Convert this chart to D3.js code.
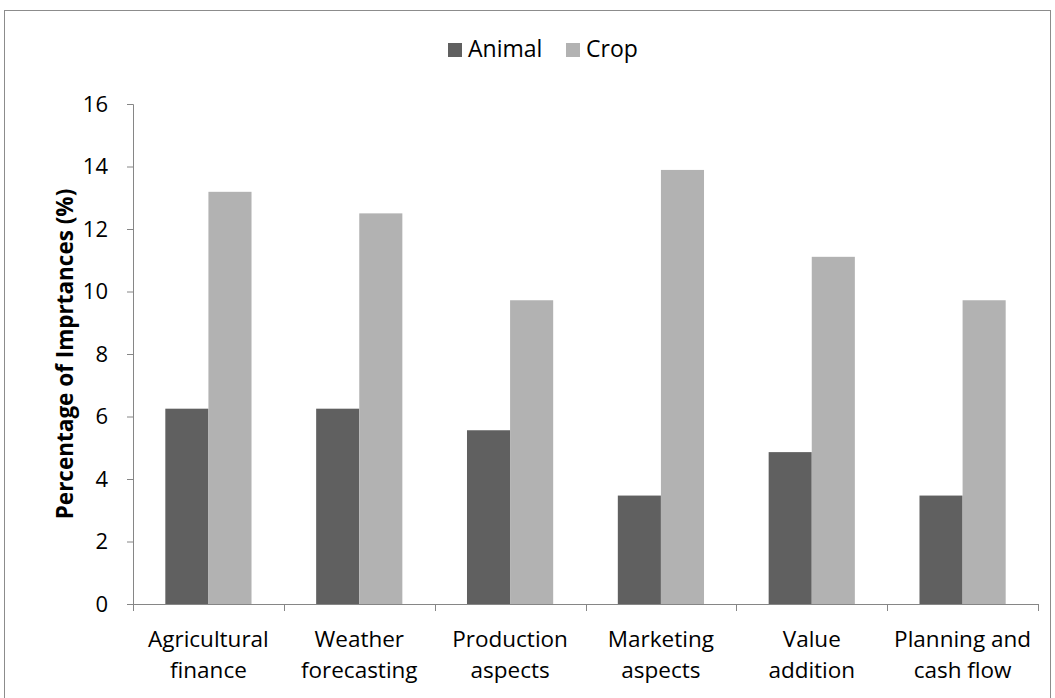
<!DOCTYPE html>
<html><head><meta charset="utf-8">
<script src="https://cdn.jsdelivr.net/npm/d3@7"></script>
<style>body{margin:0;background:#fff}svg{display:block;font-family:"Open Sans",sans-serif}</style>
</head><body>
<svg id="c" width="1055" height="698"></svg>
<script>
const categories = [["Agricultural","finance"],["Weather","forecasting"],["Production","aspects"],["Marketing","aspects"],["Value","addition"],["Planning and","cash flow"]];
const seriesNames = ["Animal","Crop"];
const animal = [6.25, 6.25, 5.56, 3.47, 4.86, 3.47];
const crop = [13.19, 12.5, 9.72, 13.89, 11.11, 9.72];
const yTicks = [0,2,4,6,8,10,12,14,16];
const colors = ["#606060","#b2b2b2"];

(function(){
const svg = d3.select("#c");
const axisCol = "#868686";
svg.append("rect").attr("x",4.5).attr("y",10.5).attr("width",1046).attr("height",690).attr("fill","none").attr("stroke","#8c8c8c").attr("stroke-width",1);

const pL=133, pR=1038, pT=104, pB=604;
const x0 = d3.scaleBand().domain(d3.range(categories.length)).range([pL,pR]).paddingInner(0).paddingOuter(0);
const x1 = d3.scaleBand().domain(seriesNames).range([0,x0.bandwidth()]).paddingOuter(0.75).paddingInner(0);
const y = d3.scaleLinear().domain([0,16]).range([pB,pT]);

const data = categories.map((c,i)=>({i, vals:[animal[i],crop[i]]}));
const g = svg.append("g");
g.selectAll("g.grp").data(data).join("g").attr("transform",d=>`translate(${x0(d.i)},0)`)
 .selectAll("rect").data(d=>d.vals.map((v,k)=>({k,v}))).join("rect")
 .attr("x",d=>x1(seriesNames[d.k])).attr("width",x1.bandwidth())
 .attr("y",d=>y(d.v)).attr("height",d=>pB-y(d.v)).attr("fill",d=>colors[d.k]);

const ya = svg.append("g").attr("transform",`translate(${pL},0)`).call(d3.axisLeft(y).tickValues(yTicks).tickSize(6).tickPadding(19));
ya.select(".domain").attr("stroke",axisCol).attr("d",`M-6,${pT+0.5}H0.5V${pB}`);
ya.selectAll(".tick line").attr("stroke",axisCol);
ya.selectAll(".tick text").attr("font-size",22).attr("fill","#000").attr("font-family","'Open Sans',sans-serif");

const xa = svg.append("g").attr("transform",`translate(0,${pB})`);
xa.append("line").attr("x1",pL).attr("x2",pR).attr("y1",0.5).attr("y2",0.5).attr("stroke",axisCol);
const edges = d3.range(categories.length+1).map(i=> i<categories.length? x0(i): pR);
xa.selectAll("line.t").data(edges).join("line").attr("class","t").attr("x1",d=>Math.round(d)+0.5).attr("x2",d=>Math.round(d)+0.5).attr("y1",0).attr("y2",7).attr("stroke",axisCol);
categories.forEach((lines,i)=>{
  lines.forEach((s,j)=>{
    xa.append("text").attr("text-anchor","middle").attr("font-size",22.5).attr("fill","#000")
      .attr("x",x0(i)+x0.bandwidth()/2).attr("y",43+j*31).text(s);
  });
});

svg.append("text").attr("transform",`translate(73,${(pT+pB)/2}) rotate(-90)`).attr("text-anchor","middle")
 .attr("font-size",22.5).attr("font-weight","bold").text("Percentage of Imprtances (%)");

const lg = svg.append("g");
const items = [{x:448},{x:566}];
items.forEach((it,k)=>{
  lg.append("rect").attr("x",it.x).attr("y",43).attr("width",14).attr("height",14).attr("fill",colors[k]);
  lg.append("text").attr("x",it.x+20).attr("y",57).attr("font-size",23).text(seriesNames[k]);
});
})();
</script>
</body></html>
